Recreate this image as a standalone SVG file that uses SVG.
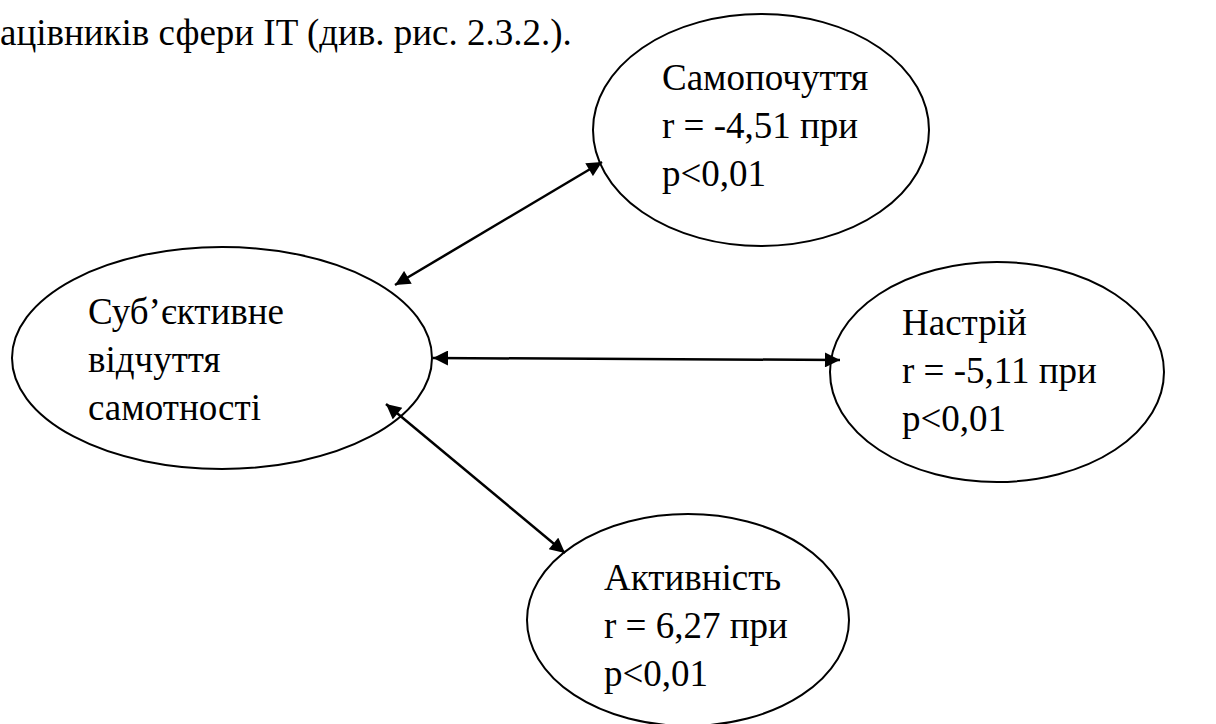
<svg xmlns="http://www.w3.org/2000/svg" width="1216" height="724" viewBox="0 0 1216 724">
<style>
text{font-family:'Liberation Serif','DejaVu Serif',serif;font-size:37px;fill:#000}
.n{fill:#fff;stroke:#000;stroke-width:2}
.c{stroke:#000;stroke-width:2.5;fill:none;marker-start:url(#a);marker-end:url(#a)}
</style>
<defs>
<marker id="a" viewBox="0 0 10 10" refX="10" refY="5" markerWidth="6.5" markerHeight="6" orient="auto-start-reverse" markerUnits="strokeWidth">
<path d="M0,0 L10,5 L0,10 z" fill="#000"/>
</marker>
</defs>
<rect width="1216" height="724" fill="#fff"/>
<text x="0" y="45">ацівників сфери IT (див. рис. 2.3.2.).</text>
<g id="node-loneliness">
<ellipse class="n" cx="222" cy="358" rx="210" ry="111"/>
<text x="88" y="324">Суб’єктивне</text>
<text x="88" y="372">відчуття</text>
<text x="88" y="420">самотності</text>
</g>
<g id="node-wellbeing">
<ellipse class="n" cx="761" cy="130" rx="168" ry="116"/>
<text x="662" y="90">Самопочуття</text>
<text x="662" y="138">r = -4,51 при</text>
<text x="662" y="186">p&lt;0,01</text>
</g>
<g id="node-mood">
<ellipse class="n" cx="997" cy="372" rx="167" ry="110"/>
<text x="902" y="335">Настрій</text>
<text x="902" y="383">r = -5,11 при</text>
<text x="902" y="431">p&lt;0,01</text>
</g>
<g id="node-activity">
<ellipse class="n" cx="688" cy="620" rx="161" ry="106"/>
<text x="604" y="590">Активність</text>
<text x="604" y="638">r = 6,27 при</text>
<text x="604" y="686">p&lt;0,01</text>
</g>
<g id="connectors">
<line class="c" x1="395" y1="285" x2="602" y2="162"/>
<line class="c" x1="433" y1="358" x2="840" y2="360"/>
<line class="c" x1="386" y1="404" x2="565" y2="553"/>
</g>
</svg>
